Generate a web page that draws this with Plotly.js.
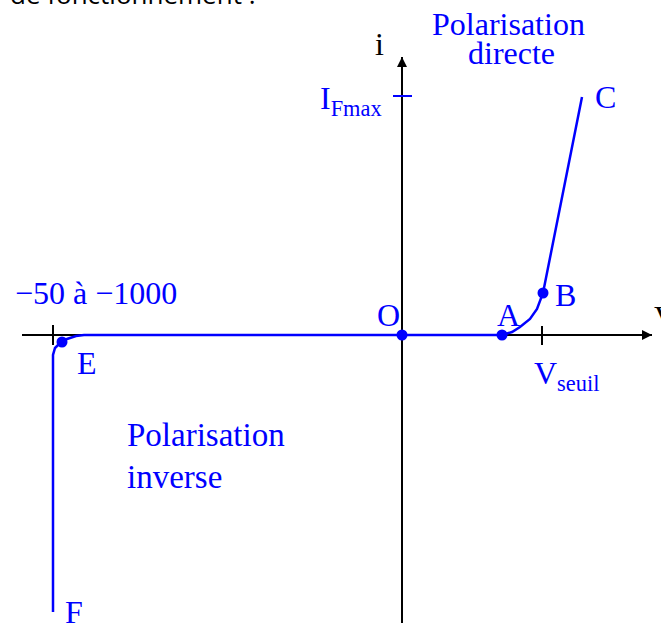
<!DOCTYPE html>
<html>
<head>
<meta charset="utf-8">
<script src="https://cdn.plot.ly/plotly-3.0.1.min.js"></script>
<style>html,body{margin:0;padding:0;background:#fff;}#chart{width:661px;height:623px;}</style>
</head>
<body>
<div id="chart"></div>
<script>
// Schematic diode characteristic (arbitrary units, origin O)
const curveV = [-349, -349, -347, -342, -335, -326, -318, 85, 100, 110, 118, 128, 135, 141, 180];
const curveI = [-277, -20, -13, -8, -4, -1, 0, 0, 0, 3, 8, 16, 26, 42, 238];
const pointNames = ['O', 'A', 'B', 'E'];
const pointV = [0, 100, 141, -340];
const pointI = [0, 0, 42, -7];
const iFmax = 239;
const vSeuil = 140;
const vBreak = -349;
const axisV = [-380, 250];
const axisI = [-288, 278];

const BLUE = '#0000ff';
const serif = 'Liberation Serif, Times New Roman, serif';

const traces = [
  {x: axisV, y: [0, 0], mode: 'lines', line: {color: '#000', width: 2}, hoverinfo: 'skip'},
  {x: [0, 0], y: axisI, mode: 'lines', line: {color: '#000', width: 2}, hoverinfo: 'skip'},
  {x: [vSeuil, vSeuil], y: [9, -10], mode: 'lines', line: {color: '#000', width: 2}, hoverinfo: 'skip'},
  {x: [vBreak, vBreak], y: [10, -10], mode: 'lines', line: {color: '#000', width: 2}, hoverinfo: 'skip'},
  {x: [-9, 10], y: [iFmax, iFmax], mode: 'lines', line: {color: BLUE, width: 2}, hoverinfo: 'skip'},
  {x: curveV, y: curveI, mode: 'lines', line: {color: BLUE, width: 2.5}, hoverinfo: 'skip'},
  {x: pointV, y: pointI, text: pointNames, mode: 'markers', marker: {color: BLUE, size: 11}, hoverinfo: 'skip'}
];

function lab(text, x, y, xanchor, size, color) {
  return {text: text, x: x, y: y, xref: 'x', yref: 'y', xanchor: xanchor, yanchor: 'middle',
          showarrow: false, font: {family: serif, size: size, color: color || BLUE}};
}

const annotations = [
  {x: axisV[1], y: 0, ax: -14, ay: 0, xref: 'x', yref: 'y', showarrow: true, arrowhead: 2, arrowsize: 1, arrowwidth: 2, arrowcolor: '#000', text: ''},
  {x: 0, y: axisI[1], ax: 0, ay: 14, xref: 'x', yref: 'y', showarrow: true, arrowhead: 2, arrowsize: 1, arrowwidth: 2, arrowcolor: '#000', text: ''},
  lab('i', -29, 291, 'left', 32, '#000'),
  lab('Polarisation', 106, 311, 'center', 32),
  lab('directe', 109, 282, 'center', 32),
  lab('I<sub>Fmax</sub>', -18, 235, 'right', 32),
  lab('C', 191, 238, 'left', 32),
  lab('B', 151, 40, 'left', 32),
  lab('A', 93, 20, 'left', 32),
  lab('O', -27, 20, 'left', 32),
  lab('V', 250, 18, 'left', 32, '#000'),
  lab('V<sub>seuil</sub>', 130, -40, 'left', 32),
  lab('\u221250 \u00e0 \u22121000', -389, 42, 'left', 32),
  lab('E', -327, -28, 'left', 32),
  lab('Polarisation', -277, -100, 'left', 33),
  lab('inverse', -277, -142, 'left', 33),
  lab('F', -339, -277, 'left', 32),
  {text: 'de fonctionnement :', x: 0.012, y: 1, xref: 'paper', yref: 'paper', xanchor: 'left', yanchor: 'bottom',
   yshift: -14, showarrow: false, font: {family: 'Open Sans, sans-serif', size: 26, color: '#000'}}
];

const layout = {
  width: 661, height: 623,
  margin: {l: 0, r: 0, t: 0, b: 0},
  paper_bgcolor: '#fff', plot_bgcolor: '#fff',
  showlegend: false,
  xaxis: {range: [-402, 259], visible: false, fixedrange: true},
  yaxis: {range: [-288, 335], visible: false, fixedrange: true},
  annotations: annotations
};

Plotly.newPlot('chart', traces, layout, {staticPlot: true, displayModeBar: false});
</script>
</body>
</html>
